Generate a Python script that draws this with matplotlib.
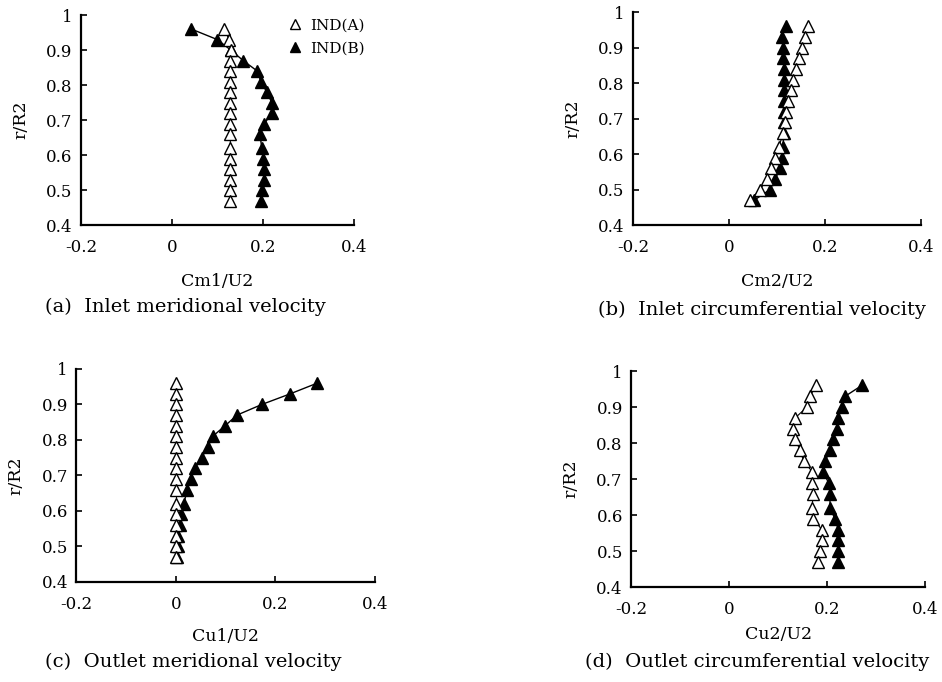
import numpy as np
import matplotlib
matplotlib.use('Agg')
import matplotlib.pyplot as plt

plt.rcParams['font.family'] = ['DejaVu Serif']
plt.rcParams['font.size'] = 11

# radial positions r/R2 (same stations for all curves)
r_pos = [0.96, 0.93, 0.90, 0.87, 0.84, 0.81, 0.78, 0.75, 0.72, 0.69,
         0.66, 0.62, 0.59, 0.56, 0.53, 0.50, 0.47]

# (a) inlet meridional velocity Cm1/U2
cm1_a = [0.115, 0.125, 0.130, 0.128, 0.128, 0.128, 0.128, 0.128, 0.128, 0.128,
         0.128, 0.128, 0.128, 0.128, 0.128, 0.128, 0.128]
cm1_b = [0.042, 0.099, 0.129, 0.156, 0.187, 0.195, 0.208, 0.219, 0.219, 0.203,
         0.193, 0.197, 0.200, 0.203, 0.203, 0.197, 0.195]

# (b) inlet circumferential velocity Cm2/U2
cm2_a = [0.165, 0.157, 0.152, 0.145, 0.139, 0.133, 0.128, 0.122, 0.118, 0.116,
         0.112, 0.104, 0.096, 0.088, 0.078, 0.065, 0.043]
cm2_b = [0.118, 0.110, 0.112, 0.113, 0.114, 0.114, 0.114, 0.114, 0.114, 0.114,
         0.114, 0.112, 0.110, 0.106, 0.096, 0.085, 0.052]

# (c) outlet Cu1/U2
cu1_a = [0.0, 0.0, 0.0, 0.0, 0.0, 0.0, 0.0, 0.0, 0.0, 0.0,
         0.0, 0.0, 0.0, 0.0, 0.0, 0.0, 0.0]
cu1_b = [0.284, 0.230, 0.173, 0.123, 0.099, 0.074, 0.064, 0.052, 0.038, 0.030,
         0.023, 0.016, 0.011, 0.008, 0.005, 0.005, 0.003]

# (d) outlet circumferential velocity Cu2/U2
cu2_a = [0.178, 0.165, 0.159, 0.135, 0.131, 0.135, 0.145, 0.152, 0.170, 0.169,
         0.172, 0.169, 0.172, 0.189, 0.189, 0.186, 0.182]
cu2_b = [0.271, 0.237, 0.230, 0.223, 0.220, 0.213, 0.206, 0.196, 0.192, 0.203,
         0.206, 0.206, 0.216, 0.223, 0.223, 0.223, 0.223]

x_ticks = [-0.2, 0, 0.2, 0.4]
x_labels = ['-0.2', '0', '0.2', '0.4']
y_ticks = [0.4, 0.5, 0.6, 0.7, 0.8, 0.9, 1.0]
y_labels = ['0.4', '0.5', '0.6', '0.7', '0.8', '0.9', '1']

panels = [
    # rect, xa, xb, xlabel, xlabel pad, caption, caption position
    ([0.086, 0.670, 0.290, 0.308], cm1_a, cm1_b, 'Cm1/U2', 12,
     '(a)  Inlet meridional velocity', (0.048, 0.550)),
    ([0.672, 0.670, 0.306, 0.312], cm2_a, cm2_b, 'Cm2/U2', 12,
     '(b)  Inlet circumferential velocity', (0.635, 0.545)),
    ([0.081, 0.147, 0.317, 0.312], cu1_a, cu1_b, 'Cu1/U2', 11,
     '(c)  Outlet meridional velocity', (0.048, 0.029)),
    ([0.670, 0.139, 0.312, 0.317], cu2_a, cu2_b, 'Cu2/U2', 6,
     '(d)  Outlet circumferential velocity', (0.621, 0.029)),
]

fig = plt.figure(figsize=(9.42, 6.82), dpi=100)

for i, (rect, xa, xb, xlab, xpad, cap, cpos) in enumerate(panels):
    ax = fig.add_axes(rect)
    ax.plot(xa, r_pos, 'k-', lw=0.8, marker='^', ms=8.5, mfc='white',
            mec='black', mew=1.0, label='IND(A)', zorder=3)
    ax.plot(xb, r_pos, 'k-', lw=1.0, marker='^', ms=8.5, mfc='black',
            mec='black', label='IND(B)', zorder=2)
    ax.set_xlim(-0.2, 0.4)
    ax.set_ylim(0.4, 1.0)
    ax.set_xticks(x_ticks)
    ax.set_xticklabels(x_labels)
    ax.set_yticks(y_ticks)
    ax.set_yticklabels(y_labels)
    ax.spines['top'].set_visible(False)
    ax.spines['right'].set_visible(False)
    ax.spines['left'].set_linewidth(1.6)
    ax.spines['bottom'].set_linewidth(1.6)
    ax.tick_params(direction='in', length=4, width=1.2, labelsize=12)
    ax.tick_params(axis='y', pad=6)
    ax.tick_params(axis='x', pad=10)
    ax.set_xlabel(xlab, fontsize=12.5, labelpad=xpad)
    ax.set_ylabel('r/R2', fontsize=12.5, labelpad=12)
    fig.text(cpos[0], cpos[1], cap, fontsize=14, va='center')
    if i == 0:
        ax.legend(loc='upper right', bbox_to_anchor=(1.09, 1.05), frameon=False,
                  handlelength=0.8, handletextpad=0.6, fontsize=11,
                  labelspacing=0.6, markerscale=0.9)
        leg = ax.get_legend()
        for h in leg.get_lines():
            h.set_linestyle('none')

fig.savefig('out.png', dpi=100)
